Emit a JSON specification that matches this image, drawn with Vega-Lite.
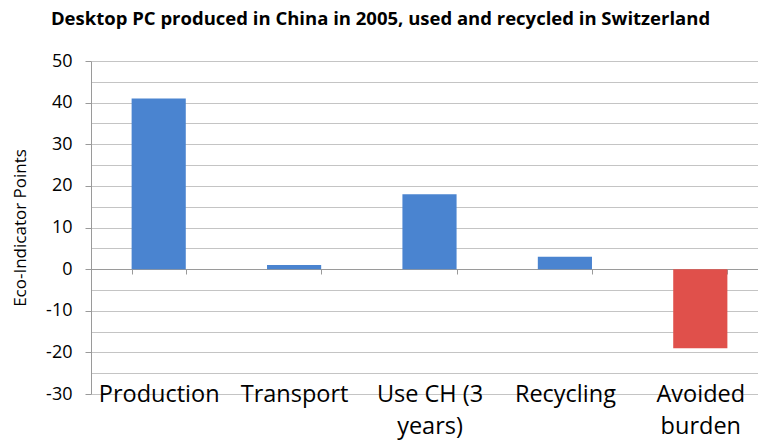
{
  "$schema": "https://vega.github.io/schema/vega-lite/v6.json",
  "autosize": {"type": "none"},
  "width": 677,
  "height": 333,
  "padding": {"left": 91, "top": 61, "right": 0, "bottom": 49},
  "background": "white",
  "title": {
    "text": "Desktop PC produced in China in 2005, used and recycled in Switzerland",
    "font": "Open Sans",
    "fontSize": 18.5,
    "fontWeight": "bold",
    "color": "#000000",
    "anchor": "middle",
    "dx": -49,
    "offset": 24
  },
  "data": {
    "values": [
      {"stage": "Production", "points": 41, "kind": "burden"},
      {"stage": "Transport", "points": 1, "kind": "burden"},
      {"stage": "Use CH (3 years)", "points": 18, "kind": "burden"},
      {"stage": "Recycling", "points": 3, "kind": "burden"},
      {"stage": "Avoided burden", "points": -19, "kind": "avoided"}
    ]
  },
  "mark": {"type": "bar"},
  "encoding": {
    "x": {
      "field": "stage",
      "type": "nominal",
      "sort": null,
      "scale": {"paddingInner": 0.6, "paddingOuter": 0.3},
      "axis": {
        "title": null,
        "orient": "bottom",
        "offset": -125,
        "labelAngle": 0,
        "labelFont": "Open Sans",
        "labelFontSize": 23.5,
        "labelColor": "#000000",
        "labelBaseline": "alphabetic",
        "labelPadding": 127,
        "labelLineHeight": 32,
        "labelExpr": "datum.value == 'Use CH (3 years)' ? ['Use CH (3', 'years)'] : datum.value == 'Avoided burden' ? ['Avoided', 'burden'] : datum.label",
        "tickBand": "extent",
        "tickSize": 5,
        "tickColor": "#9a9a9a",
        "domainColor": "#9a9a9a",
        "grid": false
      }
    },
    "y": {
      "field": "points",
      "type": "quantitative",
      "scale": {"domain": [-30, 50], "nice": false, "zero": false},
      "axis": {
        "title": "Eco-Indicator Points",
        "titleFont": "Open Sans",
        "titleFontSize": 17,
        "titleFontWeight": "normal",
        "titleColor": "#000000",
        "titlePadding": 16,
        "values": [-30, -25, -20, -15, -10, -5, 0, 5, 10, 15, 20, 25, 30, 35, 40, 45, 50],
        "labelExpr": "datum.value % 10 === 0 ? '' + datum.value : ''",
        "labelFont": "Open Sans",
        "labelFontSize": 18,
        "labelColor": "#000000",
        "labelPadding": 13,
        "tickSize": 6,
        "tickColor": "#9a9a9a",
        "tickOpacity": {"condition": {"test": "datum.value % 10 !== 0", "value": 0}, "value": 1},
        "domainColor": "#9a9a9a",
        "grid": true,
        "gridColor": "#c4c4c4",
        "gridWidth": 1
      }
    },
    "color": {
      "field": "kind",
      "type": "nominal",
      "scale": {"domain": ["burden", "avoided"], "range": ["#4a84d0", "#e0504b"]},
      "legend": null
    }
  },
  "config": {"view": {"stroke": null}}
}
